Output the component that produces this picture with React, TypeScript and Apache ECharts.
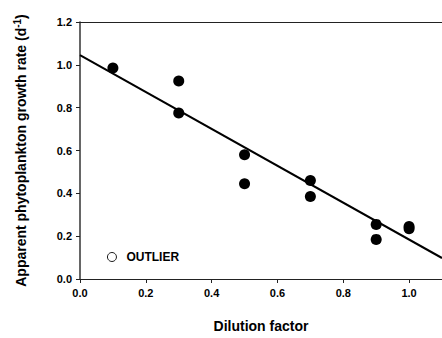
import React, { useEffect, useRef } from "react";
import * as echarts from "echarts";

const dilution = [0.1, 0.3, 0.3, 0.5, 0.5, 0.7, 0.7, 0.9, 0.9, 1.0, 1.0];
const growthRate = [0.985, 0.925, 0.775, 0.58, 0.445, 0.46, 0.385, 0.255, 0.185, 0.245, 0.235];
const fitX = [0, 1.1];
const fitY = [1.045, 0.098];
const outlierLabel = "OUTLIER";

export default function App() {
  const ref = useRef<HTMLDivElement>(null);
  useEffect(() => {
    const chart = echarts.init(ref.current!, null, { renderer: "svg" });
    const font = "Liberation Sans, Arial, sans-serif";
    chart.setOption({
      animation: false,
      backgroundColor: "#fff",
      grid: { left: 80, right: 0, top: 22, bottom: 59 },
      legend: {
        left: 107,
        top: 251,
        padding: 0,
        itemWidth: 9,
        itemHeight: 9,
        itemGap: 6,
        itemStyle: { color: "#fff", borderColor: "#000", borderWidth: 0.9 },
        data: [{ name: outlierLabel, icon: "circle" }],
        textStyle: { fontFamily: font, fontWeight: "bold", fontSize: 12, color: "#000", padding: [0, 0, 0, 5] },
      },
      xAxis: [
        {
          type: "value",
          min: 0,
          max: 1.1,
          interval: 0.2,
          name: "Dilution factor",
          nameLocation: "middle",
          nameGap: 40,
          nameTextStyle: { fontFamily: font, fontWeight: "bold", fontSize: 14, color: "#000" },
          axisLine: { lineStyle: { color: "#222", width: 1.2 } },
          axisTick: { show: true, length: 4, lineStyle: { color: "#222" } },
          axisLabel: {
            showMaxLabel: false,
            margin: 8,
            formatter: (v: number) => v.toFixed(1),
            fontFamily: font,
            fontWeight: "bold",
            fontSize: 11,
            color: "#000",
          },
          splitLine: { show: false },
        },
        {
          type: "value",
          position: "top",
          min: 0,
          max: 1.1,
          axisLine: { show: true, onZero: false, lineStyle: { color: "#222", width: 1.2 } },
          axisTick: { show: false },
          axisLabel: { show: false },
          splitLine: { show: false },
        },
      ],
      yAxis: {
        type: "value",
        min: 0,
        max: 1.2,
        interval: 0.2,
        name: "Apparent phytoplankton growth rate (d{sup|-1})",
        nameLocation: "middle",
        nameGap: 51,
        nameTextStyle: {
          fontFamily: font,
          fontWeight: "bold",
          fontSize: 14,
          color: "#000",
          rich: {
            sup: { fontFamily: font, fontWeight: "bold", fontSize: 10, verticalAlign: "top", padding: [0, 0, 7, 0] },
          },
        },
        axisLine: { show: true, lineStyle: { color: "#333", width: 1.5 } },
        axisTick: { show: true, length: 4, lineStyle: { color: "#222" } },
        axisLabel: {
          margin: 8,
          formatter: (v: number) => v.toFixed(1),
          fontFamily: font,
          fontWeight: "bold",
          fontSize: 11,
          color: "#000",
        },
        splitLine: { show: false },
      },
      series: [
        {
          type: "line",
          data: fitX.map((x, i) => [x, fitY[i]]),
          symbol: "none",
          lineStyle: { color: "#000", width: 2 },
          silent: true,
        },
        {
          type: "scatter",
          data: dilution.map((x, i) => [x, growthRate[i]]),
          symbol: "circle",
          symbolSize: 11,
          itemStyle: { color: "#000", opacity: 1 },
        },
        {
          name: outlierLabel,
          type: "scatter",
          data: [],
          symbol: "circle",
          itemStyle: { color: "#fff", borderColor: "#000", borderWidth: 0.9, opacity: 1 },
        },
      ],
    });
    return () => chart.dispose();
  }, []);
  return <div ref={ref} style={{ position: "absolute", left: 0, top: 0, width: 442, height: 338 }} />;
}
